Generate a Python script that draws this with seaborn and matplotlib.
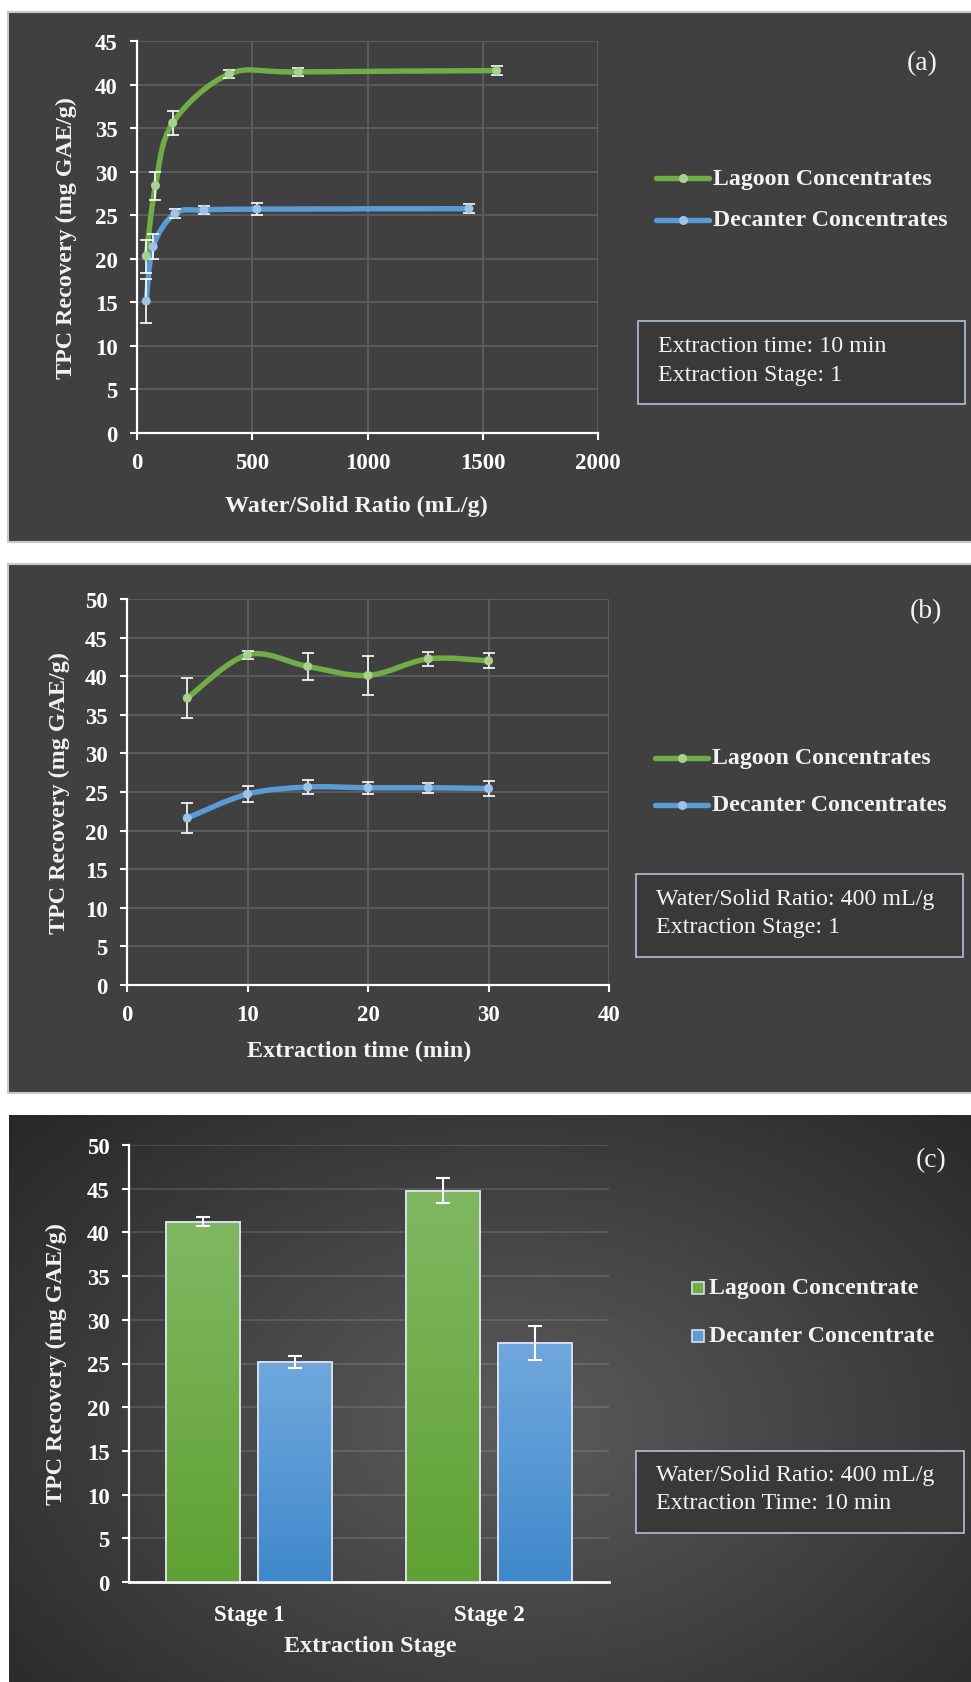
import numpy as np
import matplotlib
matplotlib.use('Agg')
import matplotlib.pyplot as plt
import seaborn as sns
import pandas as pd
from matplotlib.patches import Rectangle, PathPatch
from matplotlib.path import Path
from matplotlib.lines import Line2D
from matplotlib.colors import LinearSegmentedColormap

# ---------------- data ----------------
series_ab = ['Lagoon Concentrates', 'Decanter Concentrates']
series_c = ['Lagoon Concentrate', 'Decanter Concentrate']

# (a) water/solid ratio
a_lagoon_x = [40, 80, 155, 400, 700, 1560]
a_lagoon_y = [20.3, 28.4, 35.6, 41.2, 41.45, 41.6]
a_lagoon_err = [1.9, 1.6, 1.35, 0.5, 0.5, 0.5]
a_decanter_x = [40, 70, 165, 290, 520, 1440]
a_decanter_y = [15.15, 21.4, 25.2, 25.6, 25.7, 25.75]
a_decanter_err = [2.5, 1.45, 0.5, 0.5, 0.7, 0.5]
a_xticks = [0, 500, 1000, 1500, 2000]
a_yticks = [0, 5, 10, 15, 20, 25, 30, 35, 40, 45]

# (b) extraction time
b_time = [5, 10, 15, 20, 25, 30]
b_lagoon_y = [37.16, 42.77, 41.26, 40.1, 42.25, 42.0]
b_lagoon_err = [2.6, 0.5, 1.7, 2.5, 0.93, 1.0]
b_decanter_y = [21.62, 24.73, 25.64, 25.55, 25.55, 25.46]
b_decanter_err = [1.9, 1.0, 0.9, 0.8, 0.67, 0.93]
b_xticks = [0, 10, 20, 30, 40]
b_yticks = [0, 5, 10, 15, 20, 25, 30, 35, 40, 45, 50]

# (c) extraction stage
c_stages = ['Stage 1', 'Stage 2']
c_lagoon = [41.22, 44.77]
c_lagoon_err = [0.5, 1.45]
c_decanter = [25.17, 27.34]
c_decanter_err = [0.7, 1.9]
c_yticks = [0, 5, 10, 15, 20, 25, 30, 35, 40, 45, 50]

ylabel = 'TPC Recovery (mg GAE/g)'
notes_a = ['Extraction time: 10 min', 'Extraction Stage: 1']
notes_b = ['Water/Solid Ratio: 400 mL/g', 'Extraction Stage: 1']
notes_c = ['Water/Solid Ratio: 400 mL/g', 'Extraction Time: 10 min']

# ---------------- style ----------------
sns.set_theme(style='dark')
plt.rcParams['font.family'] = ['Liberation Serif', 'DejaVu Serif']
plt.rcParams['axes.unicode_minus'] = False

GREEN = '#70AD47'
BLUE = '#5B9BD5'
GREEN_M = '#A9D18E'
BLUE_M = '#9DC3E6'
PANEL = '#404040'
TXT = '#f2f2f2'
FS = 16.5       # tick labels
FS_LAB = 17.4   # axis titles
FS_LEG = 17.2   # legend entries
FS_NOTE = 17.3  # note boxes

W, H = 971, 1683
fig = plt.figure(figsize=(W / 100, H / 100), dpi=100, facecolor='white')


def fx(x):
    return x / W


def fy(y):
    return 1 - y / H


def rect(l, t, r, b):
    return [l / W, 1 - b / H, (r - l) / W, (b - t) / H]


# panel backgrounds
for (t, b) in [(13, 543), (565, 1094)]:
    fig.add_artist(Rectangle((fx(8), fy(b)), fx(980) - fx(8), fy(t) - fy(b),
                             transform=fig.transFigure, facecolor=PANEL,
                             edgecolor='#c8c8c8', lw=1.5, zorder=-20))

# panel (c) radial gradient
bg = fig.add_axes(rect(9, 1116, 971, 1683), zorder=-20)
u = np.linspace(0, 1, 400)
v = np.linspace(0, 1, 300)
U, V = np.meshgrid(u, v)
R = np.clip(np.sqrt(((U - 0.52) / 0.75) ** 2 + ((V - 0.55) / 0.85) ** 2), 0, 1)
c0 = np.array([0x5c, 0x5c, 0x5c]) / 255
c1 = np.array([0x24, 0x24, 0x24]) / 255
img = c0[None, None, :] * (1 - R[..., None]) + c1[None, None, :] * R[..., None]
bg.imshow(img, aspect='auto', extent=[0, 1, 0, 1], origin='upper')
bg.set_axis_off()


def smooth_path(x, y):
    P = np.column_stack([x, y]).astype(float)
    n = len(P)
    verts = [P[0]]
    codes = [Path.MOVETO]
    for i in range(n - 1):
        p0 = P[i - 1] if i > 0 else P[i]
        p1 = P[i]
        p2 = P[i + 1]
        p3 = P[i + 2] if i + 2 < n else P[i + 1]
        c1_ = p1 + (p2 - p0) / 6
        c2_ = p2 - (p3 - p1) / 6
        verts += [c1_, c2_, p2]
        codes += [Path.CURVE4] * 3
    return Path(verts, codes)


def style_axes(ax, xgrid=True):
    ax.set_facecolor('none')
    for s in ['top', 'right']:
        ax.spines[s].set_visible(False)
    for s in ['left', 'bottom']:
        ax.spines[s].set_color('white')
        ax.spines[s].set_linewidth(1.6)
    ax.grid(True, axis='y', color='#5e5e5e', lw=1.3)
    if xgrid:
        ax.grid(True, axis='x', color='#5e5e5e', lw=1.3)
    ax.set_axisbelow(True)
    ax.tick_params(axis='both', colors='white', labelsize=FS, length=5, width=1.5,
                   direction='out', left=True, bottom=True)
    ax.tick_params(axis='y', pad=9)
    ax.tick_params(axis='x', pad=9)
    ax.set_xlabel('')
    ax.set_ylabel('')


def line_panel(ax, xs, ys, errs, xticks, yticks):
    rows = []
    for x, y, e, lc, mc, name in zip(xs, ys, errs, [GREEN, BLUE], [GREEN_M, BLUE_M], series_ab):
        ax.add_patch(PathPatch(smooth_path(x, y), fill=False, edgecolor=lc, lw=3.9,
                               capstyle='round', joinstyle='round', zorder=2))
        ax.errorbar(x, y, yerr=e, fmt='none', ecolor='white', elinewidth=1.2,
                    capsize=4.5, capthick=1.2, zorder=3)
        for xi, yi in zip(x, y):
            rows.append({'x': xi, 'y': yi, 'series': name})
    df = pd.DataFrame(rows)
    sns.scatterplot(data=df, x='x', y='y', hue='series', palette=[GREEN_M, BLUE_M],
                    s=42, edgecolor='none', legend=False, ax=ax, zorder=4)
    ax.set_xlim(xticks[0], xticks[-1])
    ax.set_ylim(yticks[0], yticks[-1])
    ax.set_xticks(xticks)
    ax.set_yticks(yticks)
    style_axes(ax)
    for lab in ax.get_xticklabels() + ax.get_yticklabels():
        lab.set_fontweight('bold')


def line_legend(y_rows, x0, x1, xt):
    for yy, lc, mc, name in zip(y_rows, [GREEN, BLUE], [GREEN_M, BLUE_M], series_ab):
        fig.add_artist(Line2D([fx(x0), fx(x1)], [fy(yy), fy(yy)], transform=fig.transFigure,
                              color=lc, lw=3.9, solid_capstyle='round'))
        fig.add_artist(Line2D([fx((x0 + x1) / 2)], [fy(yy)], transform=fig.transFigure,
                              marker='o', ms=6.5, color=mc, mec='none', lw=0))
        fig.text(fx(xt), fy(yy), name, color=TXT, fontsize=FS_LEG, fontweight='bold',
                 ha='left', va='center')


def note_box(l, t, r, b, lines, xt, ys):
    fig.add_artist(Rectangle((fx(l), fy(b)), fx(r) - fx(l), fy(t) - fy(b),
                             transform=fig.transFigure, facecolor='#3a3938',
                             edgecolor='#a8b6cc', lw=1.3))
    for line, yy in zip(lines, ys):
        fig.text(fx(xt), fy(yy), line, color=TXT, fontsize=FS_NOTE, ha='left', va='center')


# ---------------- (a) ----------------
axa = fig.add_axes(rect(137, 42, 598, 434))
line_panel(axa, [a_lagoon_x, a_decanter_x], [a_lagoon_y, a_decanter_y],
           [a_lagoon_err, a_decanter_err], a_xticks, a_yticks)
fig.text(fx(66), fy(238), ylabel, rotation=90, color=TXT, fontsize=FS_LAB, fontweight='bold',
         ha='center', va='center')
fig.text(fx(356), fy(506), 'Water/Solid Ratio (mL/g)', color=TXT, fontsize=FS_LAB,
         fontweight='bold', ha='center', va='center')
fig.text(fx(922), fy(64), '(a)', color=TXT, fontsize=20, ha='center', va='center')
line_legend([179, 221], 656, 709, 713)
note_box(638, 322, 965, 405, notes_a, 658, [347, 375])

# ---------------- (b) ----------------
axb = fig.add_axes(rect(127, 600, 609, 986))
line_panel(axb, [b_time, b_time], [b_lagoon_y, b_decanter_y],
           [b_lagoon_err, b_decanter_err], b_xticks, b_yticks)
fig.text(fx(59), fy(793), ylabel, rotation=90, color=TXT, fontsize=FS_LAB, fontweight='bold',
         ha='center', va='center')
fig.text(fx(359), fy(1051), 'Extraction time (min)', color=TXT, fontsize=FS_LAB,
         fontweight='bold', ha='center', va='center')
fig.text(fx(926), fy(612), '(b)', color=TXT, fontsize=20, ha='center', va='center')
line_legend([759, 806], 655, 708, 712)
note_box(636, 875, 963, 958, notes_b, 656, [900, 928])

# ---------------- (c) ----------------
axc = fig.add_axes(rect(129, 1146, 609, 1583))
dfc = pd.DataFrame({
    'stage': c_stages * 2,
    'value': c_lagoon + c_decanter,
    'series': [series_c[0]] * len(c_stages) + [series_c[1]] * len(c_stages),
})
sns.barplot(data=dfc, x='stage', y='value', hue='series', palette=[GREEN, BLUE],
            width=0.771, gap=0.2, errorbar=None, legend=False, ax=axc,
            edgecolor='#d6e0ee', linewidth=1.4, zorder=3)
grads = {
    series_c[0]: LinearSegmentedColormap.from_list('g', ['#5fa132', '#80b862']),
    series_c[1]: LinearSegmentedColormap.from_list('b', ['#3f88cb', '#70a8dd']),
}
bars = [p for p in axc.patches if isinstance(p, Rectangle) and p.get_height() > 0]
bar_series = [series_c[0]] * len(c_stages) + [series_c[1]] * len(c_stages)
errs = c_lagoon_err + c_decanter_err
gvals = np.linspace(0, 1, 256).reshape(-1, 1)
for p, sname, e in zip(bars, bar_series, errs):
    x0, w, h = p.get_x(), p.get_width(), p.get_height()
    im = axc.imshow(gvals, extent=[x0, x0 + w, 0, h], origin='lower', cmap=grads[sname],
                    aspect='auto', zorder=2.5, interpolation='bilinear')
    im.set_clip_path(p)
    p.set_facecolor('none')
    p.set_zorder(3)
    axc.errorbar([x0 + w / 2], [h], yerr=[e], fmt='none', ecolor='white', elinewidth=1.5,
                 capsize=5, capthick=1.5, zorder=4)
axc.set_xlim(-0.5, len(c_stages) - 0.5)
axc.set_ylim(c_yticks[0], c_yticks[-1])
axc.set_yticks(c_yticks)
style_axes(axc, xgrid=False)
axc.grid(True, axis='y', color='white', alpha=0.13, lw=1.3)
axc.grid(False, axis='x')
axc.tick_params(axis='x', length=0, pad=16)
axc.spines['bottom'].set_linewidth(2)
for lab in axc.get_xticklabels() + axc.get_yticklabels():
    lab.set_fontweight('bold')
fig.text(fx(56), fy(1364), ylabel, rotation=90, color=TXT, fontsize=FS_LAB, fontweight='bold',
         ha='center', va='center')
fig.text(fx(370), fy(1647), 'Extraction Stage', color=TXT, fontsize=FS_LAB,
         fontweight='bold', ha='center', va='center')
fig.text(fx(931), fy(1161), '(c)', color=TXT, fontsize=20, ha='center', va='center')
for yy, col, name in zip([1289, 1337], [GREEN, BLUE], series_c):
    fig.add_artist(Rectangle((fx(692), fy(yy + 6)), fx(704) - fx(692), fy(yy - 6) - fy(yy + 6),
                             transform=fig.transFigure, facecolor=col, edgecolor='#d6e0ee', lw=1.2))
    fig.text(fx(709), fy(yy), name, color=TXT, fontsize=FS_LEG, fontweight='bold',
             ha='left', va='center')
note_box(636, 1452, 964, 1534, notes_c, 656, [1476, 1504])

fig.savefig('out.png', dpi=100, facecolor='white')
